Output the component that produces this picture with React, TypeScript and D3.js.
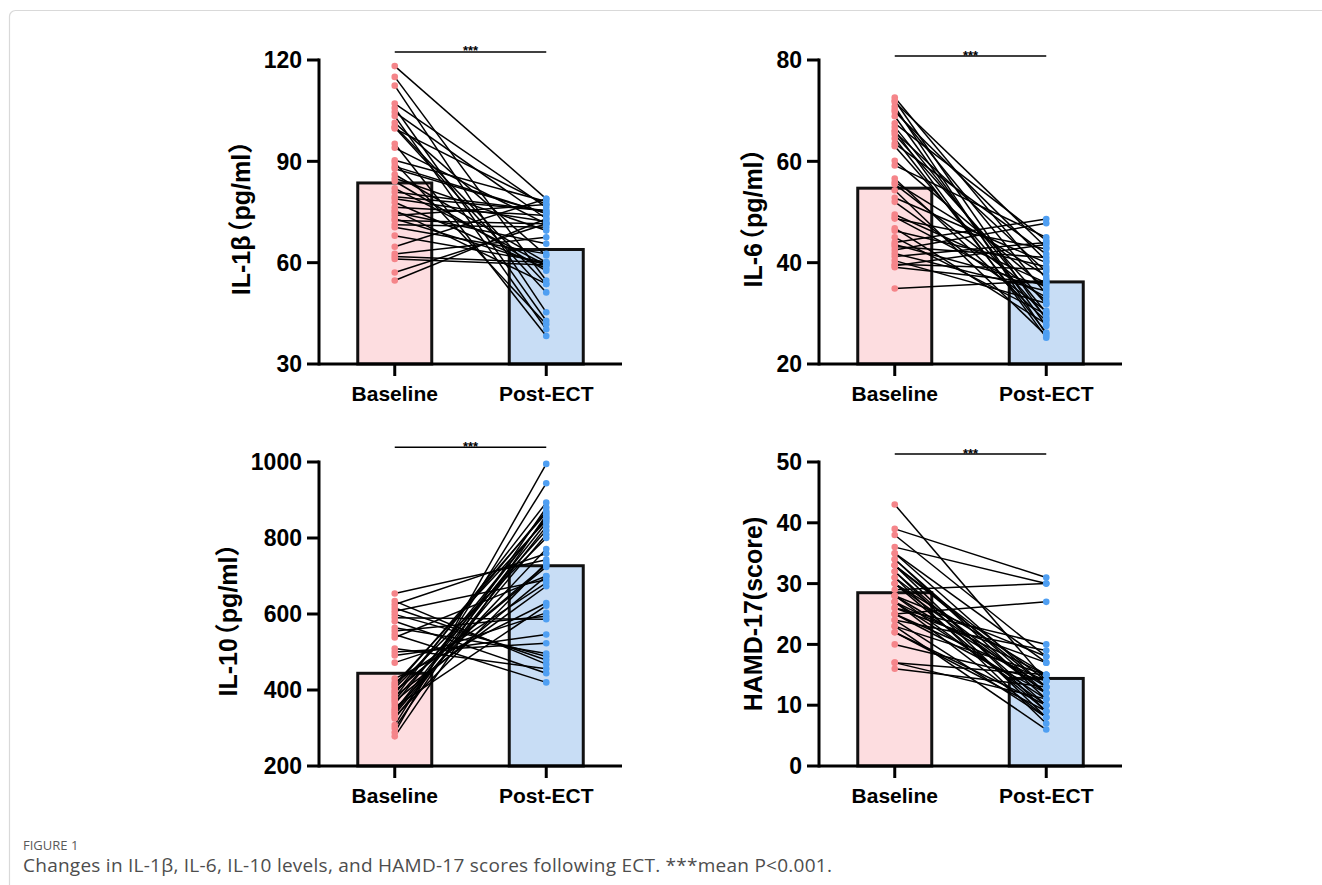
import React from 'react';
import * as d3 from 'd3';

// categories on every panel
const groups = ['Baseline', 'Post-ECT'];

// IL-1β (pg/ml), one entry per patient, same order in both arrays
const il1bBaseline = [118.2, 115.0, 112.4, 107.1, 105.8, 104.6, 103.4, 101.4, 100.4, 99.7, 95.2, 94.0, 90.3, 89.6, 87.8, 86.1, 85.0, 84.1, 80.9, 78.9, 77.9, 76.4, 74.9, 74.0, 73.0, 71.2, 70.5, 68.0, 64.7, 62.6, 61.8, 61.1, 57.1, 54.7, 79.5, 75.5, 82.0, 72.5, 100.0, 88.5];
const il1bPost = [78.9, 54.7, 45.3, 76.4, 42.8, 73.0, 40.3, 62.1, 53.7, 77.2, 38.3, 71.5, 78.1, 41.8, 74.6, 60.1, 69.5, 57.6, 75.4, 72.2, 58.3, 74.0, 65.6, 77.2, 59.3, 70.5, 62.6, 60.1, 78.9, 67.5, 60.1, 59.3, 71.5, 73.0, 75.4, 53.7, 59.3, 71.5, 51.2, 74.6];
const il1bMeans = [83.6, 63.9];
const il1bTicks = [30, 60, 90, 120];

// IL-6 (pg/ml)
const il6Baseline = [72.6, 72.0, 71.7, 70.8, 70.2, 69.8, 68.9, 67.5, 66.8, 66.1, 65.8, 65.3, 64.5, 63.5, 63.0, 60.1, 59.2, 56.6, 55.9, 55.5, 54.3, 52.8, 52.0, 49.5, 49.0, 48.7, 46.8, 46.3, 45.0, 44.0, 43.6, 43.2, 42.5, 41.8, 41.2, 40.4, 39.7, 39.4, 39.1, 34.9];
const il6Post = [36.8, 28.8, 43.0, 25.9, 33.8, 40.4, 27.5, 44.4, 30.1, 25.2, 38.2, 31.8, 26.2, 41.7, 29.2, 34.9, 45.0, 28.5, 37.4, 32.5, 25.6, 40.0, 30.5, 36.0, 33.2, 42.7, 27.9, 39.2, 29.8, 48.6, 35.4, 41.0, 47.8, 34.4, 44.0, 32.0, 38.7, 43.6, 35.9, 36.4];
const il6Means = [54.7, 36.2];
const il6Ticks = [20, 40, 60, 80];

// IL-10 (pg/ml)
const il10Baseline = [654, 634, 625, 616, 607, 599, 590, 581, 564, 555, 546, 538, 509, 500, 491, 472, 430, 420, 409, 398, 384, 374, 363, 349, 336, 308, 288, 278, 415, 405, 395, 390, 380, 370, 355, 345, 340, 330, 325, 300];
const il10Post = [743, 468, 759, 479, 690, 488, 586, 444, 496, 594, 420, 700, 456, 523, 546, 603, 629, 682, 866, 724, 673, 820, 852, 771, 809, 944, 995, 861, 846, 800, 730, 871, 893, 699, 622, 855, 840, 735, 830, 880];
const il10Means = [444, 727];
const il10Ticks = [200, 400, 600, 800, 1000];

// HAMD-17 score
const hamdBaseline = [43, 39, 38, 36, 35, 35, 34, 34, 33, 33, 32, 32, 31, 30, 30, 29, 28, 28, 27, 27, 26, 25, 25, 24, 23, 23, 22, 20, 17, 16, 17, 22, 24, 26, 28, 30, 31, 33, 25, 27];
const hamdPost = [14, 31, 18, 30, 13, 17, 12, 11, 9, 14, 8, 10, 12, 15, 9, 30, 13, 10, 11, 8, 20, 27, 12, 19, 15, 6, 10, 14, 15, 13, 11, 9, 8, 17, 18, 12, 7, 13, 14, 15];
const hamdMeans = [28.5, 14.4];
const hamdTicks = [0, 10, 20, 30, 40, 50];

const panels = [
  { label: 'IL-1β', unit: '（pg/ml）', base: il1bBaseline, post: il1bPost, means: il1bMeans, ticks: il1bTicks, sig: 122.4, left: 319, top: 60 },
  { label: 'IL-6', unit: '（pg/ml）', base: il6Baseline, post: il6Post, means: il6Means, ticks: il6Ticks, sig: 80.8, left: 819, top: 60 },
  { label: 'IL-10', unit: '（pg/ml）', base: il10Baseline, post: il10Post, means: il10Means, ticks: il10Ticks, sig: 1039, left: 319, top: 462 },
  { label: 'HAMD-17', unit: '(score)', base: hamdBaseline, post: hamdPost, means: hamdMeans, ticks: hamdTicks, sig: 51.3, left: 819, top: 462 },
];

const W = 303;
const H = 304;
const barW = 74;
const font = "'Liberation Sans', Arial, 'Noto Sans CJK SC', sans-serif";
const fills = ['#fddde0', '#c8ddf5'];
const dots = ['#f5858a', '#4f9ff2'];

function Panel({ p }) {
  const x = d3.scalePoint().domain(groups).range([p.left, p.left + W]).padding(0.5);
  const y = d3.scaleLinear().domain([p.ticks[0], p.ticks[p.ticks.length - 1]]).range([p.top + H, p.top]);
  const bottom = y(p.ticks[0]);
  const maxChars = d3.max(p.ticks, t => String(t).length);
  const titleX = p.left - 17 - maxChars * 12.8 - 14;
  const x0 = x(groups[0]);
  const x1 = x(groups[1]);
  const line = d3.line();

  return (
    <g>
      {p.means.map((m, i) => (
        <rect key={'b' + i} x={x(groups[i]) - barW / 2} y={y(m)} width={barW} height={bottom - y(m)}
          fill={fills[i]} stroke="#111" strokeWidth={3} />
      ))}
      {p.base.map((v, i) => (
        <path key={'l' + i} d={line([[x0, y(v)], [x1, y(p.post[i])]])} stroke="#000" strokeWidth={1.5} fill="none" />
      ))}
      {p.base.map((v, i) => (
        <circle key={'d0' + i} cx={x0} cy={y(v)} r={3.3} fill={dots[0]} />
      ))}
      {p.post.map((v, i) => (
        <circle key={'d1' + i} cx={x1} cy={y(v)} r={3.3} fill={dots[1]} />
      ))}
      {/* axes */}
      <line x1={p.left} x2={p.left} y1={p.top - 1.5} y2={bottom + 1.5} stroke="#000" strokeWidth={3} />
      <line x1={p.left} x2={p.left + W} y1={bottom} y2={bottom} stroke="#000" strokeWidth={3} />
      {p.ticks.map(t => (
        <g key={'t' + t}>
          <line x1={p.left - 12} x2={p.left} y1={y(t)} y2={y(t)} stroke="#000" strokeWidth={3} />
          <text x={p.left - 17} y={y(t)} dy="0.36em" textAnchor="end" fontFamily={font} fontWeight="bold" fontSize={23}>{t}</text>
        </g>
      ))}
      {groups.map(g => (
        <g key={g}>
          <line x1={x(g)} x2={x(g)} y1={bottom} y2={bottom + 12} stroke="#000" strokeWidth={3} />
          <text x={x(g)} y={bottom + 37} textAnchor="middle" fontFamily={font} fontWeight="bold" fontSize={21}>{g}</text>
        </g>
      ))}
      <text transform={`translate(${titleX},${p.top + H / 2}) rotate(-90)`} textAnchor="middle"
        fontFamily={font} fontWeight="bold" fontSize={25}>
        {p.label}
        <tspan dx={p.unit.startsWith('（') ? '-0.4em' : 0}>{p.unit}</tspan>
      </text>
      {/* significance bracket */}
      <line x1={x0} x2={x1} y1={y(p.sig)} y2={y(p.sig)} stroke="#000" strokeWidth={1.5} />
      <text x={(x0 + x1) / 2} y={y(p.sig) + 3.6} textAnchor="middle" fontFamily={font} fontWeight="bold" fontSize={13}>***</text>
    </g>
  );
}

export default function App() {
  return (
    <svg width={1322} height={885} style={{ position: 'absolute', left: 0, top: 0, background: '#fff' }}>
      <rect x={9.5} y={10.5} width={1400} height={1000} rx={6} fill="none" stroke="#d9d9d9" strokeWidth={1.2} />
      {panels.map((p, i) => <Panel key={i} p={p} />)}
      <text x={23} y={850} fontFamily="'Open Sans', 'Noto Sans', sans-serif" fontSize={13} fill="#5a5a5a">FIGURE 1</text>
      <text x={23} y={872} fontFamily="'Open Sans', 'Noto Sans', sans-serif" fontSize={19} fill="#4d4d4d" textLength={809} lengthAdjust="spacing">
        Changes in IL-1β, IL-6, IL-10 levels, and HAMD-17 scores following ECT. ***mean P&lt;0.001.
      </text>
    </svg>
  );
}
